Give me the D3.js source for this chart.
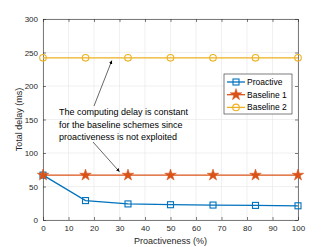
<html>
<head>
<style>
body { margin: 0; background: #fff; }
text { font-family: "Liberation Sans", Arial, sans-serif; }
</style>
</head>
<body>
<script src="https://cdnjs.cloudflare.com/ajax/libs/d3/7.8.5/d3.min.js"></script>
<script>
var xs = [0, 16.67, 33.33, 50, 66.67, 83.33, 100]
var proactive = [67, 29, 24, 22.8, 22.3, 21.8, 21.2]
var baseline1 = [67, 67, 67, 67, 67, 67, 67]
var baseline2 = [242, 242, 242, 242, 242, 242, 242]
var xTicks = [0, 10, 20, 30, 40, 50, 60, 70, 80, 90, 100]
var yTicks = [0, 50, 100, 150, 200, 250, 300]
var names = ['Proactive', 'Baseline 1', 'Baseline 2']
var colors = ['#0072bd', '#d95319', '#edb120']
var note = ['The computing delay is constant', 'for the baseline schemes since', 'proactiveness is not exploited']

var width = 330, height = 247
var pad = {left: 43, right: 32, top: 19, bottom: 27}

var svg = d3.select('body').append('svg')
    .attr('width', width).attr('height', height)

var x = d3.scaleLinear().domain([0, 100]).range([pad.left, width - pad.right])
var y = d3.scaleLinear().domain([0, 300]).range([height - pad.bottom, pad.top])

// grid
svg.append('g').selectAll('line').data(xTicks).enter().append('line')
    .attr('x1', d => x(d)).attr('x2', d => x(d))
    .attr('y1', y(0)).attr('y2', y(300))
    .attr('stroke', '#e6e6e6').attr('stroke-width', 0.6)
svg.append('g').selectAll('line').data(yTicks).enter().append('line')
    .attr('y1', d => y(d)).attr('y2', d => y(d))
    .attr('x1', x(0)).attr('x2', x(100))
    .attr('stroke', '#e6e6e6').attr('stroke-width', 0.6)

// axes
var xAxis = svg.append('g').attr('transform', 'translate(0,' + y(0) + ')')
    .call(d3.axisBottom(x).tickValues(xTicks).tickSizeInner(-3).tickSizeOuter(0).tickPadding(5))
var xTop = svg.append('g').attr('transform', 'translate(0,' + y(300) + ')')
    .call(d3.axisTop(x).tickValues(xTicks).tickSizeInner(-3).tickSizeOuter(0).tickFormat(''))
var yAxis = svg.append('g').attr('transform', 'translate(' + x(0) + ',0)')
    .call(d3.axisLeft(y).tickValues(yTicks).tickSizeInner(-3).tickSizeOuter(0).tickPadding(5))
var yRight = svg.append('g').attr('transform', 'translate(' + x(100) + ',0)')
    .call(d3.axisRight(y).tickValues(yTicks).tickSizeInner(-3).tickSizeOuter(0).tickFormat(''))
;[xAxis, xTop, yAxis, yRight].forEach(function(g) {
    g.selectAll('path,line').attr('stroke', '#262626').attr('stroke-width', 0.6)
    g.selectAll('text').attr('fill', '#262626').style('font-size', '8px')
        .style('font-family', '"Liberation Sans", Arial, sans-serif')
})

svg.append('text').attr('x', x(50)).attr('y', height - 3)
    .attr('text-anchor', 'middle').attr('font-size', 9).attr('fill', '#262626')
    .text('Proactiveness (%)')
svg.append('text').attr('transform', 'translate(22,' + y(150) + ') rotate(-90)')
    .attr('text-anchor', 'middle').attr('font-size', 9).attr('fill', '#262626')
    .text('Total delay (ms)')

var line = d3.line().x((d, i) => x(xs[i])).y(d => y(d))
var series = [proactive, baseline1, baseline2]

var star = d3.symbol().type(d3.symbolStar).size(42)
function drawMarker(g, k, cx, cy) {
    if (k == 0) {
        g.append('rect').attr('x', cx - 3).attr('y', cy - 3).attr('width', 6).attr('height', 6)
            .attr('fill', 'none').attr('stroke', colors[k]).attr('stroke-width', 1.1)
    } else if (k == 1) {
        g.append('path').attr('d', star).attr('transform', 'translate(' + cx + ',' + cy + ')')
            .attr('fill', colors[k]).attr('stroke', colors[k]).attr('stroke-width', 0.5)
    } else {
        g.append('circle').attr('cx', cx).attr('cy', cy).attr('r', 3.3)
            .attr('fill', 'none').attr('stroke', colors[k]).attr('stroke-width', 1.1)
    }
}

series.forEach(function(s, k) {
    svg.append('path').datum(s).attr('d', line)
        .attr('fill', 'none').attr('stroke', colors[k]).attr('stroke-width', 1.3)
    var g = svg.append('g')
    s.forEach(function(v, i) { drawMarker(g, k, x(xs[i]), y(v)) })
})

// annotation
svg.append('defs').append('marker').attr('id', 'ah')
    .attr('viewBox', '0 0 10 10').attr('refX', 10).attr('refY', 5)
    .attr('markerWidth', 6).attr('markerHeight', 6).attr('orient', 'auto')
    .append('path').attr('d', 'M0,0 L10,5 L0,10 z').attr('fill', '#000')

svg.append('line').attr('x1', 94).attr('y1', 106).attr('x2', x(27)).attr('y2', y(238))
    .attr('stroke', '#000').attr('stroke-width', 0.6).attr('marker-end', 'url(#ah)')
svg.append('line').attr('x1', 93).attr('y1', 142).attr('x2', x(30)).attr('y2', y(72))
    .attr('stroke', '#000').attr('stroke-width', 0.6).attr('marker-end', 'url(#ah)')

svg.append('g').selectAll('text').data(note).enter().append('text')
    .attr('x', 59).attr('y', (d, i) => 115 + i * 12.5)
    .attr('font-size', 9).attr('fill', '#000')
    .text(d => d)

// legend
var lg = svg.append('g')
lg.append('rect').attr('x', 224).attr('y', 74).attr('width', 68).attr('height', 40)
    .attr('fill', '#fff').attr('stroke', '#262626').attr('stroke-width', 0.6)
names.forEach(function(n, k) {
    var ly = 82 + k * 12.7
    lg.append('line').attr('x1', 227).attr('x2', 245).attr('y1', ly).attr('y2', ly)
        .attr('stroke', colors[k]).attr('stroke-width', 1.3)
    drawMarker(lg, k, 236, ly)
    lg.append('text').attr('x', 247).attr('y', ly + 3).attr('font-size', 8.5)
        .attr('fill', '#000').text(n)
})
</script>
</body>
</html>
